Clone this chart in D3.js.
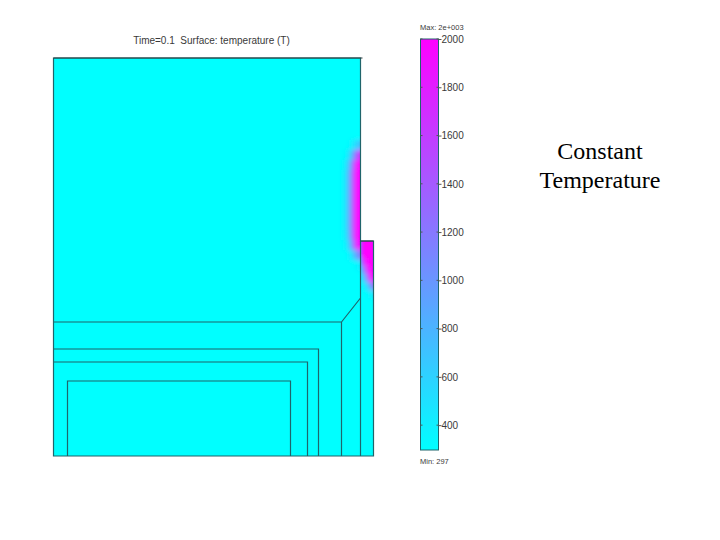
<!DOCTYPE html>
<html>
<head>
<meta charset="utf-8">
<script src="https://cdn.jsdelivr.net/npm/d3@7"></script>
<style>
  html, body { margin: 0; padding: 0; background: #fff; }
  svg { display: block; }
  text { font-family: "Liberation Sans", Arial, sans-serif; fill: #3a3a3a; }
</style>
</head>
<body>
<div id="chart"></div>
<script>
// geometry, model units from top left of the domain
const outline = [[0, 0], [307, 0], [307, 183], [320, 183], [320, 398], [0, 398]];
const topEdge = [[0, 0], [309, 0]];
const stepEdge = [[307, 183], [320, 183]];
const innerLines = [
  [[0, 264], [288, 264], [307, 240]],
  [[288, 264], [288, 398]],
  [[0, 291], [265, 291], [265, 398]],
  [[0, 304], [254, 304], [254, 398]],
  [[14, 398], [14, 323], [237, 323], [237, 398]],
  [[307, 183], [307, 398]]
];

// temperature samples near the heated walls
const wallCols = [291, 295, 299, 303, 307];
const wallRows = [72, 82, 92, 102, 112, 122, 132, 142, 152, 162, 172, 182, 192, 202];
const wallTemps = [
  [297, 297, 297, 297, 297],
  [297, 310, 420, 600, 750],
  [320, 450, 850, 1450, 1750],
  [380, 650, 1300, 1950, 2000],
  [420, 750, 1450, 2000, 2000],
  [420, 750, 1450, 2000, 2000],
  [420, 750, 1450, 2000, 2000],
  [420, 750, 1450, 2000, 2000],
  [420, 750, 1450, 2000, 2000],
  [420, 750, 1450, 2000, 2000],
  [400, 700, 1400, 2000, 2000],
  [340, 550, 1150, 1850, 2000],
  [297, 340, 550, 950, 1250],
  [297, 297, 297, 340, 450]
];
const blockCols = [308, 311, 314, 317, 320];
const blockRows = [183, 192, 200, 208, 216, 224, 232];
const blockTemps = [
  [2000, 2000, 2000, 2000, 2000],
  [2000, 2000, 2000, 2000, 2000],
  [1400, 1850, 2000, 2000, 2000],
  [800, 1300, 1850, 2000, 2000],
  [450, 750, 1300, 1900, 2000],
  [310, 400, 600, 1000, 1300],
  [297, 297, 310, 380, 480]
];

// colour bar
const tempMin = 297;
const tempMax = 2000;
const barTicks = [400, 600, 800, 1000, 1200, 1400, 1600, 1800, 2000];

const titleText = "Time=0.1  Surface: temperature (T)";
const maxText = "Max: 2e+003";
const minText = "Min: 297";
const noteLines = ["Constant", "Temperature"];

const width = 720, height = 540;

const svg = d3.select("#chart").append("svg")
  .attr("width", width)
  .attr("height", height);

const x = d3.scaleLinear().domain([0, 320]).range([53.5, 373.5]);
const y = d3.scaleLinear().domain([0, 398]).range([58, 456]);
const color = d3.scaleLinear().domain([tempMin, tempMax]).range(["#00ffff", "#ff00ff"]);
const barY = d3.scaleLinear().domain([tempMin, tempMax]).range([450, 39]);

const line = d3.line().x(d => x(d[0])).y(d => y(d[1]));

const defs = svg.append("defs");
defs.append("clipPath").attr("id", "wall")
  .append("rect")
  .attr("x", x(0)).attr("y", y(0))
  .attr("width", x(307) - x(0)).attr("height", y(398) - y(0));
defs.append("clipPath").attr("id", "block")
  .append("rect")
  .attr("x", x(307)).attr("y", y(183))
  .attr("width", x(320) - x(307)).attr("height", y(398) - y(183));
defs.append("filter").attr("id", "soft")
  .attr("x", "-30%").attr("y", "-30%").attr("width", "160%").attr("height", "160%")
  .append("feGaussianBlur").attr("stdDeviation", 2.4);

const grad = defs.append("linearGradient").attr("id", "barGrad")
  .attr("x1", 0).attr("x2", 0).attr("y1", 1).attr("y2", 0);
grad.append("stop").attr("offset", 0).attr("stop-color", color(tempMin));
grad.append("stop").attr("offset", 1).attr("stop-color", color(tempMax));

// base surface
svg.append("path")
  .attr("d", line(outline) + "Z")
  .attr("fill", color(tempMin));

function heat(clipId, cols, rows, temps, padTop) {
  const dx = cols[1] - cols[0];
  const cells = rows.flatMap((r, i) => cols.map((c, j) => ({
    c, r, t: temps[i][j], j, i,
    h: (rows[i + 1] === undefined ? rows[i] - rows[i - 1] : rows[i + 1] - r)
  })));
  svg.append("g").attr("clip-path", `url(#${clipId})`)
    .append("g").attr("filter", "url(#soft)")
    .selectAll("rect")
    .data(cells)
    .join("rect")
    .attr("x", d => x(d.c - dx / 2))
    // the wall column runs on past the edge so the blur does not fade it
    .attr("width", d => x(d.j === cols.length - 1 ? d.c + dx * 3 : d.c + dx / 2) - x(d.c - dx / 2) + 0.5)
    .attr("y", d => y(d.i === 0 ? d.r - padTop : d.r))
    .attr("height", d => y(d.r + d.h) - y(d.i === 0 ? d.r - padTop : d.r) + 0.5)
    .attr("fill", d => color(d.t));
}
heat("wall", wallCols, wallRows, wallTemps, 0);
heat("block", blockCols, blockRows, blockTemps, 10);

// boundaries
const edges = svg.append("g")
  .attr("fill", "none")
  .attr("stroke", "#1f656b")
  .attr("stroke-width", 1.2);
edges.selectAll("path.inner")
  .data(innerLines)
  .join("path")
  .attr("class", "inner")
  .attr("d", line);
edges.append("path")
  .attr("d", line(outline) + "Z");
edges.selectAll("path.dark")
  .data([topEdge, stepEdge])
  .join("path")
  .attr("class", "dark")
  .attr("stroke", "#2a3a3e")
  .attr("stroke-width", 1)
  .attr("d", line);

svg.append("text")
  .attr("x", 211.5).attr("y", 44)
  .attr("text-anchor", "middle")
  .attr("font-size", 10)
  .style("white-space", "pre")
  .text(titleText);

// colour bar
svg.append("rect")
  .attr("x", 420.5).attr("y", barY(tempMax))
  .attr("width", 18).attr("height", barY(tempMin) - barY(tempMax))
  .attr("fill", "url(#barGrad)")
  .attr("stroke", "#1f656b");

const axis = svg.append("g")
  .attr("transform", "translate(438.5,0)")
  .call(d3.axisRight(barY).tickValues(barTicks).tickSize(3).tickPadding(0).tickFormat(d3.format("d")));
axis.select(".domain").remove();
axis.selectAll("line").attr("stroke", "#555");
axis.selectAll("text").attr("font-size", 10).attr("fill", "#3a3a3a")
  .style("font-family", '"Liberation Sans", Arial, sans-serif');

svg.append("g")
  .selectAll("path")
  .data(barTicks)
  .join("path")
  .attr("d", d => `M420.5,${barY(d)}h2M436.5,${barY(d)}h2`)
  .attr("stroke", "#555");

svg.append("text").attr("x", 420).attr("y", 30).attr("font-size", 7.5).text(maxText);
svg.append("text").attr("x", 420).attr("y", 464).attr("font-size", 7.5).text(minText);

svg.append("g")
  .selectAll("text")
  .data(noteLines)
  .join("text")
  .attr("x", 600)
  .attr("y", (d, i) => 159 + i * 29)
  .attr("text-anchor", "middle")
  .attr("font-size", 24)
  .style("font-family", '"Liberation Serif", "Times New Roman", serif')
  .style("fill", "#000")
  .text(d => d);
</script>
</body>
</html>
